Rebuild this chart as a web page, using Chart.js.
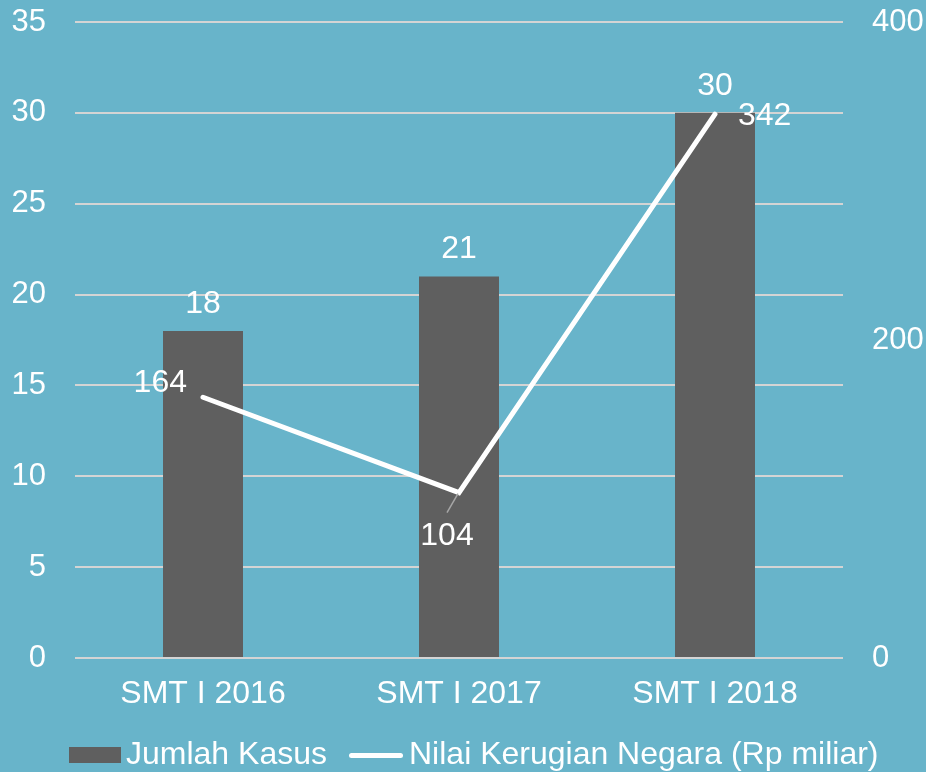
<!DOCTYPE html>
<html>
<head>
<meta charset="utf-8">
<script src="https://cdn.jsdelivr.net/npm/chart.js@4/dist/chart.umd.min.js"></script>
<style>
    html, body { margin: 0; padding: 0; background: #68b4ca; }
    #wrap { position: relative; width: 926px; height: 772px; }
    .legend-item { position: absolute; top: 737px; color: #fff; font: 32px 'Liberation Sans', Arial, sans-serif; line-height: 32px; white-space: nowrap; }
    .swatch { position: absolute; }
</style>
</head>
<body>
<div id="wrap">
    <canvas id="kasusChart" width="926" height="772"></canvas>
    <!-- 범례 (HTML로 직접 배치) -->
    <div class="swatch" style="left:69px; top:747px; width:52px; height:16px; background:#5f5f5f;"></div>
    <span class="legend-item" style="left:126px;">Jumlah Kasus</span>
    <div class="swatch" style="left:349px; top:753px; width:54px; height:5px; border-radius:3px; background:#fff;"></div>
    <span class="legend-item" style="left:409px;">Nilai Kerugian Negara (Rp miliar)</span>
</div>
<script>
// 데이터
const categories = ['SMT I 2016', 'SMT I 2017', 'SMT I 2018'];
const jumlahKasus = [18, 21, 30];
const nilaiKerugian = [164, 104, 342];

const FONT = "'Liberation Sans', Arial, sans-serif";

// 라인 라벨 위치 (포인트 기준 오프셋)
const lineLabelPos = [
    { dx: -16, dy: -14, align: 'right' },
    { dx: -12, dy: 44, align: 'center', leader: true },
    { dx: 23, dy: 2, align: 'left' }
];

// 값 라벨 그리기
const valueLabels = {
    id: 'valueLabels',
    afterDatasetsDraw(chart) {
        const ctx = chart.ctx;
        ctx.save();
        ctx.font = '32px ' + FONT;
        ctx.fillStyle = '#ffffff';
        ctx.textBaseline = 'middle';

        const barMeta = chart.getDatasetMeta(0);
        barMeta.data.forEach((el, i) => {
            ctx.textAlign = 'center';
            ctx.fillText(jumlahKasus[i], el.x, el.y - 27);
        });

        const lineMeta = chart.getDatasetMeta(1);
        lineMeta.data.forEach((el, i) => {
            const p = lineLabelPos[i];
            if (p.leader) {
                ctx.strokeStyle = '#a6a6a6';
                ctx.lineWidth = 1.5;
                ctx.beginPath();
                ctx.moveTo(el.x - 1, el.y + 1);
                ctx.lineTo(el.x - 12, el.y + 20);
                ctx.stroke();
            }
            ctx.textAlign = p.align;
            ctx.fillText(nilaiKerugian[i], el.x + p.dx, el.y + p.dy);
        });
        ctx.restore();
    }
};

// 축 여백 제거 (레이아웃 패딩으로만 위치 조정)
function noPad(scale) {
    scale.paddingTop = 0;
    scale.paddingBottom = 0;
}

const ctx = document.getElementById('kasusChart').getContext('2d');
new Chart(ctx, {
    data: {
        labels: categories,
        datasets: [
            {
                type: 'bar',
                label: 'Jumlah Kasus',
                data: jumlahKasus,
                backgroundColor: '#5f5f5f',
                borderWidth: 0,
                yAxisID: 'y',
                barPercentage: 0.3125,
                categoryPercentage: 1,
                order: 2
            },
            {
                type: 'line',
                label: 'Nilai Kerugian Negara (Rp miliar)',
                data: nilaiKerugian,
                borderColor: '#ffffff',
                backgroundColor: '#ffffff',
                borderWidth: 5,
                borderCapStyle: 'round',
                pointRadius: 0,
                tension: 0,
                yAxisID: 'y1',
                order: 1
            }
        ]
    },
    options: {
        responsive: false,
        animation: false,
        layout: { padding: { top: 22, left: 0, right: 0, bottom: 50 } },
        plugins: {
            legend: { display: false },
            tooltip: { enabled: false }
        },
        scales: {
            x: {
                grid: { display: false, drawTicks: false },
                border: { display: false },
                ticks: { color: '#ffffff', font: { family: FONT, size: 32 }, padding: 17 },
                afterFit: (scale) => { scale.height = 64; }
            },
            y: {
                position: 'left',
                min: 0,
                max: 35,
                ticks: { stepSize: 5, color: '#ffffff', font: { family: FONT, size: 31 }, padding: 29 },
                grid: { color: '#d4d4d4', lineWidth: 2, drawTicks: false },
                border: { display: false },
                afterFit: (scale) => { scale.width = 75; noPad(scale); }
            },
            y1: {
                position: 'right',
                min: 0,
                max: 400,
                ticks: { stepSize: 200, color: '#ffffff', font: { family: FONT, size: 31 }, padding: 29 },
                grid: { display: false, drawTicks: false },
                border: { display: false },
                afterFit: (scale) => { scale.width = 83; noPad(scale); }
            }
        }
    },
    plugins: [valueLabels]
});
</script>
</body>
</html>
